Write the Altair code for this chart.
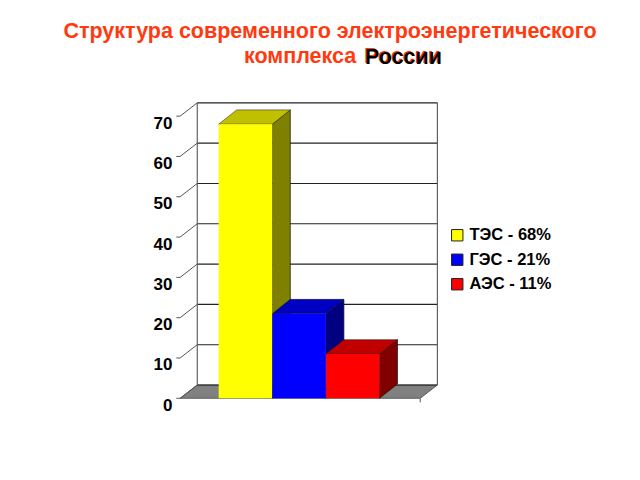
import altair as alt
import pandas as pd

labels = ["ТЭС - 68%", "ГЭС - 21%", "АЭС - 11%"]
values = [68, 21, 11]
front_colors = ["#ffff00", "#0000ff", "#ff0000"]
top_colors = ["#c0c000", "#0000c0", "#c00000"]
side_colors = ["#808000", "#000080", "#800000"]
ticks = [0, 10, 20, 30, 40, 50, 60, 70]

FLOOR_L, FLOOR_R = -0.72, 3.76
WALL_DX, WALL_DY = 0.32, 3.3
BAR_DX, BAR_DY = 0.336, 3.55
TICK_L = -0.79

XS = alt.Scale(domain=[-0.871, 4.129], nice=False, zero=False)
YS = alt.Scale(domain=[-0.42, 74.5], nice=False, zero=False)

Y_AXIS = alt.Axis(
    values=ticks,
    title=None,
    domain=False,
    ticks=False,
    grid=False,
    labelFont="Liberation Sans",
    labelFontSize=17,
    labelFontWeight="bold",
    labelColor="#000000",
    labelPadding=0,
    labelOffset=7,
)


def X(f):
    return alt.X(f"{f}:Q", scale=XS, axis=None)


def Y(f):
    return alt.Y(f"{f}:Q", scale=YS, axis=Y_AXIS)


layers = []

# floor
floor = pd.DataFrame({
    "y": [0, WALL_DY],
    "x": [FLOOR_L, FLOOR_L + WALL_DX],
    "x2": [FLOOR_R, FLOOR_R + WALL_DX],
})
layers.append(
    alt.Chart(floor).mark_area(orient="horizontal", color="#808080", stroke="#333333", strokeWidth=0.7)
    .encode(y=Y("y"), x=X("x"), x2="x2:Q")
)

# back wall grid lines
grid = pd.DataFrame({
    "x": FLOOR_L + WALL_DX,
    "x2": FLOOR_R + WALL_DX,
    "y": [t + WALL_DY for t in ticks],
})
layers.append(
    alt.Chart(grid).mark_rule(color="#222222", strokeWidth=1.1)
    .encode(x=X("x"), x2="x2:Q", y=Y("y"))
)

# wall edges
walls = pd.DataFrame({
    "x": [FLOOR_L + WALL_DX, FLOOR_R + WALL_DX],
    "y": [WALL_DY, WALL_DY],
    "y2": [70 + WALL_DY, 70 + WALL_DY],
})
layers.append(
    alt.Chart(walls).mark_rule(color="#555555", strokeWidth=1.1)
    .encode(x=X("x"), y=Y("y"), y2="y2:Q")
)

# slanted ticks on the left wall
slant = pd.DataFrame({
    "x": FLOOR_L,
    "x2": FLOOR_L + WALL_DX,
    "y": ticks,
    "y2": [t + WALL_DY for t in ticks],
})
layers.append(
    alt.Chart(slant).mark_rule(color="#555555", strokeWidth=1)
    .encode(x=X("x"), x2="x2:Q", y=Y("y"), y2="y2:Q")
)
short = pd.DataFrame({"x": TICK_L, "x2": FLOOR_L, "y": ticks})
layers.append(
    alt.Chart(short).mark_rule(color="#555555", strokeWidth=1)
    .encode(x=X("x"), x2="x2:Q", y=Y("y"))
)

# small tick under the front right corner of the floor
corner = pd.DataFrame({"x": [FLOOR_R], "y": [0], "y2": [-1]})
layers.append(
    alt.Chart(corner).mark_rule(color="#555555", strokeWidth=1)
    .encode(x=X("x"), y=Y("y"), y2="y2:Q")
)

# side and top faces of each bar, back to front
for i, v in enumerate(values):
    left, right = float(i), float(i + 1)
    side = pd.DataFrame({
        "x": [right, right + BAR_DX],
        "y": [v, v + BAR_DY],
        "y2": [0, BAR_DY],
    })
    layers.append(
        alt.Chart(side).mark_area(color=side_colors[i], stroke="#111111", strokeWidth=0.7)
        .encode(x=X("x"), y=Y("y"), y2="y2:Q")
    )
    top = pd.DataFrame({
        "y": [v, v + BAR_DY],
        "x": [left, left + BAR_DX],
        "x2": [right, right + BAR_DX],
    })
    layers.append(
        alt.Chart(top).mark_area(orient="horizontal", color=top_colors[i], stroke="#111111", strokeWidth=0.5)
        .encode(y=Y("y"), x=X("x"), x2="x2:Q")
    )

# front faces, with the legend
fronts = pd.DataFrame({
    "label": labels,
    "value": values,
    "x": [float(i) for i in range(3)],
    "x2": [float(i + 1) for i in range(3)],
    "base": [0] * 3,
})
layers.append(
    alt.Chart(fronts).mark_rect().encode(
        x=X("x"),
        x2="x2:Q",
        y=Y("value"),
        y2="base:Q",
        color=alt.Color(
            "label:N",
            sort=labels,
            scale=alt.Scale(domain=labels, range=front_colors),
            legend=alt.Legend(
                title=None,
                orient="none",
                legendX=277,
                legendY=129,
                symbolType="square",
                symbolSize=130,
                symbolOpacity=1,
                symbolStrokeColor="#222222",
                symbolStrokeWidth=1,
                labelFont="Liberation Sans",
                labelFontSize=16.5,
                labelFontWeight="bold",
                labelColor="#000000",
                labelOffset=4,
                rowPadding=7.5,
                padding=0,
            ),
        ),
    )
)

# second title line
RED = "#ff3a10"
for txt, xpos, ypos, col in [
    ("комплекса", 72, -41, RED),
    ("России", 192, -41, RED),
    ("России", 193, -40, "#000000"),
]:
    layers.append(
        alt.Chart(pd.DataFrame({"t": [txt]})).mark_text(
            font="Liberation Sans", fontSize=21.5, fontWeight="bold", color=col,
            align="left", baseline="middle",
        ).encode(x=alt.value(xpos), y=alt.value(ypos), text="t:N")
    )

chart = alt.layer(*layers).properties(
    width=268,
    height=302,
    title=alt.TitleParams(
        "Структура современного электроэнергетического",
        font="Liberation Sans",
        fontSize=21.5,
        fontWeight="bold",
        color=RED,
        anchor="middle",
        frame="group",
        dx=24,
        offset=4,
    ),
    autosize=alt.AutoSizeParams(type="none"),
    padding={"left": 164, "top": 90, "right": 192, "bottom": 72},
    background="#ffffff",
).configure_view(stroke=None)

chart.save("out.html", embed_options={"renderer": "svg", "actions": False})
